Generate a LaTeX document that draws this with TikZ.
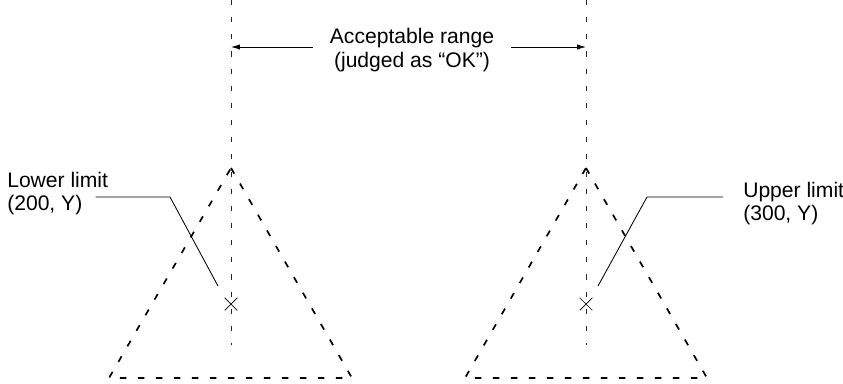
\documentclass[tikz,border=0pt]{standalone}
\usepackage{fontspec}
\setmainfont{Liberation Sans}
\usetikzlibrary{arrows.meta, calc, shapes.misc}
\tikzset{
  >=Latex,
  guide/.style={draw=black!85, line width=0.5pt, dash pattern=on 3.6pt off 8.6pt},
  tri/.style={draw=black, line width=1.2pt, dash pattern=on 4.6pt off 8.2pt},
  leader/.style={draw=black, line width=0.6pt},
  dimarrow/.style={-{Latex[length=2.2mm,width=1.3mm]}, line width=0.6pt},
  lab/.style={font=\fontsize{15}{16.5}\selectfont, inner sep=0pt, align=#1},
  lab/.default=left,
  xmark/.style={draw, cross out, minimum size=0.3cm, inner sep=0pt, line width=0.5pt}
}
\begin{document}
\begin{tikzpicture}[x=0.025cm, y=-0.025cm]
  \useasboundingbox (0,0) rectangle (843,383);
  % limit guides
  \coordinate (lowtop) at (231,0);
  \coordinate (lowbot) at (231,345);
  \coordinate (uptop) at (586,0);
  \coordinate (upbot) at (586,345);
  \draw[guide] (lowtop) -- (lowbot);
  \draw[guide] (uptop) -- (upbot);
  % triangles
  \draw[tri] (231,168) -- (352,378) -- (109,378) -- cycle;
  \draw[tri] (586,168) -- (707,378) -- (465,378) -- cycle;
  % range label and arrows
  \node[lab=center, inner xsep=12pt] (acc) at (412,50)
    {Acceptable range\\(judged as “OK”)};
  \draw[dimarrow] ($(acc.west)+(0,-3)$) coordinate (accl) -- (accl -| lowtop);
  \draw[dimarrow] ($(acc.east)+(0,-3)$) coordinate (accr) -- (accr -| uptop);
  % limit points
  \node[xmark] (lowx) at (231,304) {};
  \node[xmark] (upx) at (586,304) {};
  % lower limit label
  \node[lab, anchor=base west] (lowname) at (7,187) {Lower limit};
  \node[lab, anchor=base west] (lowval) at (7,210) {(200, Y)};
  \coordinate (lowknee) at (170,197);
  \coordinate (lowtip) at (218,286);
  \draw[leader] ($(lowval.east |- lowknee)+(13,0)$) -- (lowknee) -- (lowtip);
  % upper limit label
  \node[lab, anchor=base west] (upname) at (743,197) {Upper limit};
  \node[lab, anchor=base west] (upval) at (743,220) {(300, Y)};
  \coordinate (upknee) at (647,197);
  \coordinate (uptip) at (598,286);
  \draw[leader] ($(upname.west |- upknee)+(-20,0)$) -- (upknee) -- (uptip);
\end{tikzpicture}
\end{document}
